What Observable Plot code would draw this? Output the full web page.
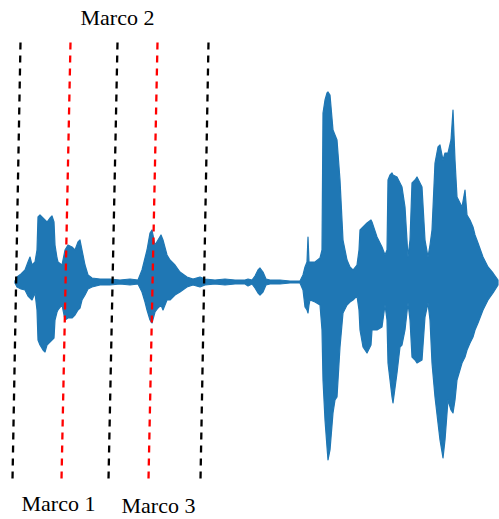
<!DOCTYPE html>
<html>
<head>
<meta charset="utf-8">
<script src="https://cdn.jsdelivr.net/npm/d3@7"></script>
<script src="https://cdn.jsdelivr.net/npm/@observablehq/plot@0.6"></script>
<style>
  html, body { margin: 0; padding: 0; background: #fff; }
  #chart svg { display: block; }
</style>
</head>
<body>
<div id="chart"></div>
<script>
// Waveform envelope: time (s), upper and lower amplitude (normalised)
const time = [0.15,0.17,0.21,0.25,0.28,0.30,0.32,0.35,0.37,0.38,0.40,0.43,0.45,0.47,0.50,0.52,0.54,0.55,0.57,0.58,0.62,0.65,0.68,0.72,0.75,0.78,0.80,0.82,0.85,0.88,0.92,1.00,1.10,1.20,1.30,1.38,1.42,1.45,1.47,1.50,1.52,1.55,1.58,1.61,1.63,1.67,1.70,1.75,1.80,1.87,1.93,2.00,2.05,2.15,2.25,2.35,2.45,2.48,2.52,2.55,2.58,2.60,2.63,2.66,2.70,2.80,2.90,3.00,3.03,3.05,3.07,3.08,3.09,3.10,3.15,3.20,3.22,3.23,3.25,3.27,3.28,3.30,3.33,3.35,3.37,3.40,3.43,3.47,3.50,3.53,3.57,3.59,3.60,3.63,3.67,3.71,3.72,3.77,3.82,3.85,3.87,3.88,3.90,3.92,3.93,3.97,4.00,4.02,4.05,4.08,4.10,4.12,4.15,4.17,4.22,4.25,4.28,4.30,4.32,4.35,4.38,4.40,4.43,4.45,4.48,4.51,4.53,4.55,4.57,4.62,4.65,4.67,4.70,4.73,4.75,4.78,4.83,4.88,4.93,4.98];
const upper = [0.005,0.025,0.04,0.06,0.10,0.125,0.085,0.10,0.16,0.325,0.335,0.32,0.31,0.30,0.32,0.33,0.30,0.185,0.12,0.10,0.085,0.16,0.185,0.175,0.16,0.20,0.21,0.16,0.085,0.035,0.02,0.015,0.015,0.01,0.015,0.01,0.06,0.12,0.16,0.245,0.26,0.185,0.21,0.235,0.21,0.135,0.11,0.085,0.05,0.025,0.015,0.025,0.015,0.01,0.015,0.01,0.01,0.015,0.01,0.03,0.06,0.07,0.05,0.015,0.01,0.01,0.005,0.005,0.035,0.075,0.10,0.225,0.10,0.10,0.10,0.12,0.16,0.845,0.91,0.945,0.95,0.935,0.76,0.735,0.71,0.51,0.21,0.11,0.075,0.06,0.085,0.16,0.26,0.275,0.295,0.31,0.30,0.225,0.175,0.135,0.16,0.51,0.535,0.545,0.535,0.525,0.495,0.475,0.375,0.125,0.21,0.495,0.51,0.525,0.475,0.21,0.125,0.185,0.26,0.595,0.675,0.685,0.61,0.645,0.645,0.71,0.86,0.61,0.425,0.375,0.46,0.335,0.31,0.275,0.235,0.195,0.125,0.075,0.045,0.01];
const lower = [-0.005,-0.025,-0.035,-0.04,-0.07,-0.08,-0.09,-0.055,-0.14,-0.29,-0.315,-0.34,-0.35,-0.315,-0.30,-0.29,-0.28,-0.19,-0.15,-0.14,-0.115,-0.19,-0.18,-0.18,-0.165,-0.14,-0.13,-0.09,-0.065,-0.035,-0.025,-0.015,-0.015,-0.01,-0.015,-0.01,-0.05,-0.10,-0.14,-0.19,-0.205,-0.15,-0.13,-0.115,-0.14,-0.09,-0.09,-0.065,-0.05,-0.025,-0.015,-0.025,-0.015,-0.01,-0.015,-0.01,-0.01,-0.02,-0.01,-0.03,-0.055,-0.065,-0.05,-0.015,-0.01,-0.01,-0.005,-0.005,-0.04,-0.125,-0.14,-0.155,-0.115,-0.09,-0.10,-0.115,-0.24,-0.49,-0.69,-0.825,-0.89,-0.84,-0.655,-0.59,-0.575,-0.325,-0.155,-0.115,-0.10,-0.09,-0.07,-0.14,-0.24,-0.325,-0.355,-0.315,-0.24,-0.24,-0.225,-0.115,-0.19,-0.405,-0.49,-0.575,-0.605,-0.455,-0.325,-0.315,-0.24,-0.105,-0.19,-0.375,-0.39,-0.405,-0.39,-0.175,-0.105,-0.19,-0.405,-0.575,-0.705,-0.79,-0.88,-0.79,-0.59,-0.64,-0.655,-0.59,-0.49,-0.405,-0.375,-0.34,-0.305,-0.275,-0.24,-0.205,-0.14,-0.09,-0.055,-0.015];

// Frame markers: time at the top and bottom of each dashed line
const markerTop    = [0.20, 0.70, 1.17, 1.57, 2.08];
const markerBottom = [0.12, 0.61, 1.08, 1.48, 2.00];
const markerKind   = ["limite", "marco", "limite", "marco", "limite"];

// Frame labels
const labels     = ["Marco 1", "Marco 2", "Marco 3"];
const labelTime  = [0.58, 1.17, 1.58];
const labelLevel = [-1.105, 1.325, -1.115];

const wave = time.map((t, i) => ({t, hi: upper[i], lo: lower[i]}));
const markers = markerTop.map((t, i) => ({t1: t, t2: markerBottom[i], kind: markerKind[i]}));
const tags = labels.map((text, i) => ({text, t: labelTime[i], a: labelLevel[i]}));

const chart = Plot.plot({
  width: 499,
  height: 519,
  margin: 0,
  x: {domain: [0, 4.99], axis: null},
  y: {domain: [-1.185, 1.41], axis: null},
  color: {domain: ["limite", "marco"], range: ["#000000", "#ff0000"]},
  marks: [
    Plot.areaY(wave, {x: "t", y1: "lo", y2: "hi", fill: "#1f77b4", stroke: "#1f77b4", strokeWidth: 1.2, curve: "linear"}),
    Plot.link(markers, {
      x1: "t1", y1: 1.2, x2: "t2", y2: -0.985,
      stroke: "kind", strokeWidth: 2.3, strokeDasharray: "7,6"
    }),
    Plot.text(tags, {
      x: "t", y: "a", text: "text",
      fontFamily: "Liberation Serif", fontSize: 22, fill: "#000"
    })
  ]
});

document.getElementById("chart").appendChild(chart);
</script>
</body>
</html>
